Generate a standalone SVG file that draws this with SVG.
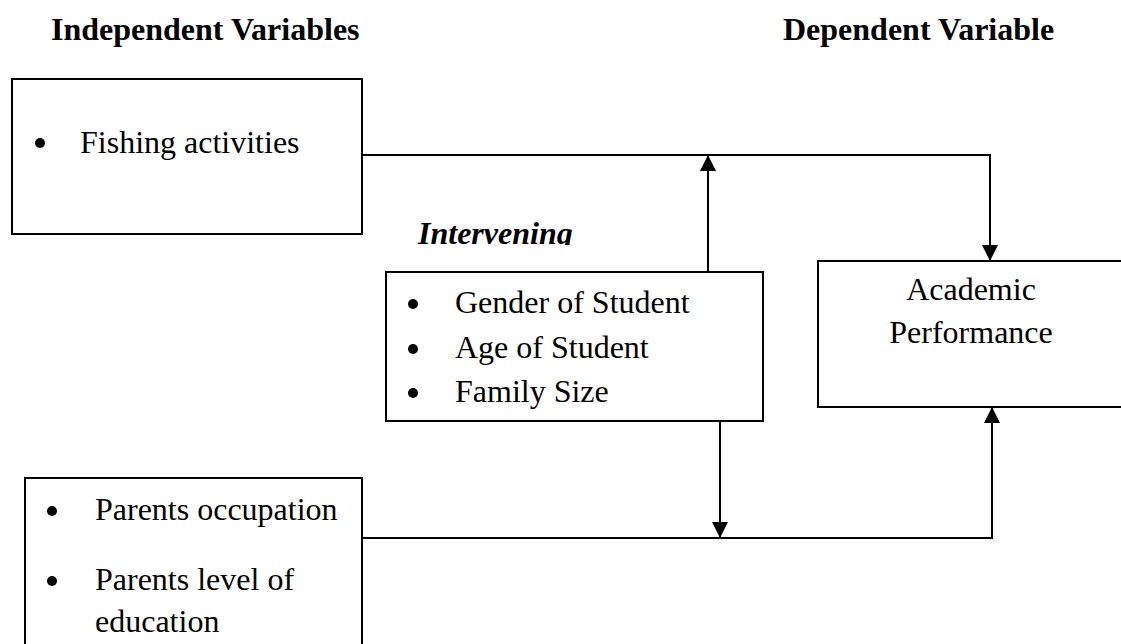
<svg xmlns="http://www.w3.org/2000/svg" width="1121" height="644" viewBox="0 0 1121 644">
<style>
.box{fill:#fff;stroke:#000;stroke-width:2}
.t{font-family:"Liberation Serif","Times New Roman",serif;font-size:32px;fill:#000}
.h{font-weight:bold}
.bi{font-weight:bold;font-style:italic}
.c{fill:none;stroke:#000;stroke-width:2}
</style>
<defs>
<marker id="ah" markerUnits="userSpaceOnUse" markerWidth="16" markerHeight="16" viewBox="0 0 16 16" refX="16" refY="8" orient="auto">
<path d="M0,0 L16,8 L0,16 Z" fill="#000"/>
</marker>
<clipPath id="clipI"><rect x="0" y="0" width="1121" height="245"/></clipPath>
</defs>
<rect width="1121" height="644" fill="#fff"/>
<g id="headers">
<text class="t h" x="51" y="40">Independent Variables</text>
<text class="t h" x="783" y="40">Dependent Variable</text>
</g>
<g id="connectors">
<path class="c" d="M362,155 H990 V261" marker-end="url(#ah)"/>
<path class="c" d="M708,272 V155" marker-end="url(#ah)"/>
<path class="c" d="M720,421 V538" marker-end="url(#ah)"/>
<path class="c" d="M362,538 H992 V407" marker-end="url(#ah)"/>
</g>
<g id="fishing">
<rect class="box" x="12" y="79" width="350" height="155"/>
<circle cx="40" cy="143" r="5"/>
<text class="t" x="80" y="153">Fishing activities</text>
</g>
<g id="intervening-label">
<text class="t bi" x="418" y="243.5" clip-path="url(#clipI)">Intervening</text>
</g>
<g id="intervening">
<rect class="box" x="386" y="272" width="377" height="149"/>
<circle cx="413" cy="304" r="5"/>
<text class="t" x="455" y="313">Gender of Student</text>
<circle cx="413" cy="349" r="5"/>
<text class="t" x="455" y="358">Age of Student</text>
<circle cx="413" cy="393" r="5"/>
<text class="t" x="455" y="402">Family Size</text>
</g>
<g id="academic">
<rect class="box" x="818" y="261" width="320" height="146"/>
<text class="t" x="971" y="300" text-anchor="middle">Academic</text>
<text class="t" x="971" y="343" text-anchor="middle">Performance</text>
</g>
<g id="parents">
<rect class="box" x="25" y="478" width="337" height="200"/>
<circle cx="52" cy="511" r="5"/>
<text class="t" x="95" y="520">Parents occupation</text>
<circle cx="52" cy="581" r="5"/>
<text class="t" x="95" y="590">Parents level of</text>
<text class="t" x="95" y="632">education</text>
</g>
</svg>
